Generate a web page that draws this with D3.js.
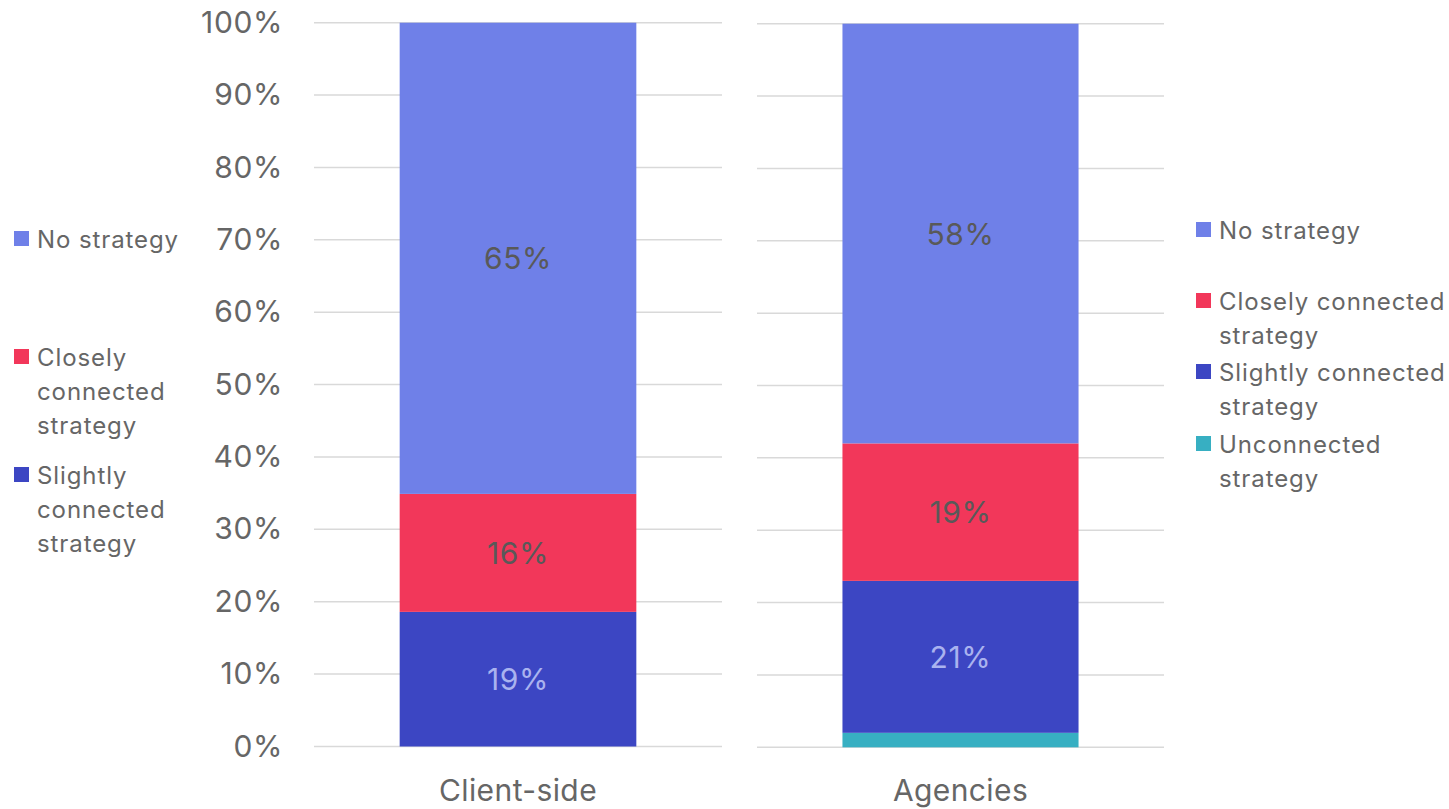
<!DOCTYPE html>
<html>
<head>
<meta charset="utf-8">
<script src="https://cdn.jsdelivr.net/npm/d3@7"></script>
<style>
  html, body { margin: 0; padding: 0; background: #fff; }
  svg { display: block; font-family: Inter, "Noto Sans", sans-serif; }
</style>
</head>
<body>
<svg id="chart" width="1449" height="809"></svg>
<script>
// Share of respondents by strategy type, stacked to 100%
const groups = ["Client-side", "Agencies"];
const series = ["Unconnected strategy", "Slightly connected strategy", "Closely connected strategy", "No strategy"];
const clientValues = [0, 18.6, 16.3, 65.1];
const agencyValues = [2, 21, 19, 58];
const yTicks = [0, 10, 20, 30, 40, 50, 60, 70, 80, 90, 100];

const colors = {
  "Unconnected strategy": "#37afc2",
  "Slightly connected strategy": "#3c46c3",
  "Closely connected strategy": "#f2375a",
  "No strategy": "#6f80e8"
};
const labelColors = {
  "Unconnected strategy": "#595959",
  "Slightly connected strategy": "#aab3ef",
  "Closely connected strategy": "#595959",
  "No strategy": "#595959"
};

const svg = d3.select("#chart");

const panels = [
  { name: groups[0], values: clientValues, gx0: 314, gx1: 722, yBottom: 746.5, yTop: 22.7, showAxis: true,
    legend: { x: 14, items: [
      { s: "No strategy", lines: ["No strategy"], y: 239 },
      { s: "Closely connected strategy", lines: ["Closely", "connected", "strategy"], y: 357 },
      { s: "Slightly connected strategy", lines: ["Slightly", "connected", "strategy"], y: 475 }
    ]}},
  { name: groups[1], values: agencyValues, gx0: 757, gx1: 1164, yBottom: 747.3, yTop: 23.7, showAxis: false,
    legend: { x: 1196, items: [
      { s: "No strategy", lines: ["No strategy"], y: 230 },
      { s: "Closely connected strategy", lines: ["Closely connected", "strategy"], y: 301 },
      { s: "Slightly connected strategy", lines: ["Slightly connected", "strategy"], y: 372 },
      { s: "Unconnected strategy", lines: ["Unconnected", "strategy"], y: 444 }
    ]}}
];

panels.forEach(p => {
  const g = svg.append("g");
  const y = d3.scaleLinear().domain([0, 100]).range([p.yBottom, p.yTop]);
  const x = d3.scaleBand().domain([p.name]).range([p.gx0, p.gx1]).paddingInner(0).paddingOuter(0.362);

  // gridlines
  g.append("g").selectAll("line").data(yTicks).join("line")
    .attr("x1", p.gx0).attr("x2", p.gx1)
    .attr("y1", d => y(d)).attr("y2", d => y(d))
    .attr("stroke", "#d9d9d9").attr("stroke-width", 1.5);

  if (p.showAxis) {
    const axis = d3.axisLeft(y).tickValues(yTicks).tickFormat(d => d + "%").tickSize(0).tickPadding(0);
    const ag = g.append("g").attr("transform", `translate(283,0)`).call(axis);
    ag.select(".domain").remove();
    ag.selectAll("text").attr("fill", "#666").attr("font-size", 30).attr("letter-spacing", 0.6)
      .attr("font-family", "Inter, 'Noto Sans', sans-serif");
  }

  // stacked segments
  const row = {};
  series.forEach((s, i) => row[s] = p.values[i]);
  const stacked = d3.stack().keys(series)([row]);
  const segs = stacked.map(layer => ({ key: layer.key, y0: layer[0][0], y1: layer[0][1] }))
    .filter(d => d.y1 - d.y0 > 0);

  g.append("g").selectAll("rect").data(segs).join("rect")
    .attr("x", x(p.name)).attr("width", x.bandwidth())
    .attr("y", d => y(d.y1)).attr("height", d => y(d.y0) - y(d.y1))
    .attr("fill", d => colors[d.key]);

  g.append("g").selectAll("text").data(segs.filter(d => d.y1 - d.y0 >= 5)).join("text")
    .attr("x", x(p.name) + x.bandwidth() / 2)
    .attr("y", d => y((d.y0 + d.y1) / 2))
    .attr("text-anchor", "middle").attr("dominant-baseline", "central")
    .attr("font-size", 30).attr("letter-spacing", 0.6).attr("fill", d => labelColors[d.key])
    .text(d => Math.round(d.y1 - d.y0) + "%");

  // category label
  g.append("text")
    .attr("x", x(p.name) + x.bandwidth() / 2).attr("y", 790)
    .attr("text-anchor", "middle").attr("dominant-baseline", "central")
    .attr("font-size", 30).attr("letter-spacing", 0.4).attr("fill", "#666").text(p.name);

  // legend
  const lg = g.append("g");
  p.legend.items.forEach(it => {
    lg.append("rect").attr("x", p.legend.x).attr("y", it.y - 8).attr("width", 15).attr("height", 15)
      .attr("fill", colors[it.s]);
    it.lines.forEach((ln, k) => {
      lg.append("text").attr("x", p.legend.x + 23).attr("y", it.y + k * 34)
        .attr("dominant-baseline", "central").attr("font-size", 24).attr("letter-spacing", 0.9)
        .attr("fill", "#666").text(ln);
    });
  });
});
</script>
</body>
</html>
